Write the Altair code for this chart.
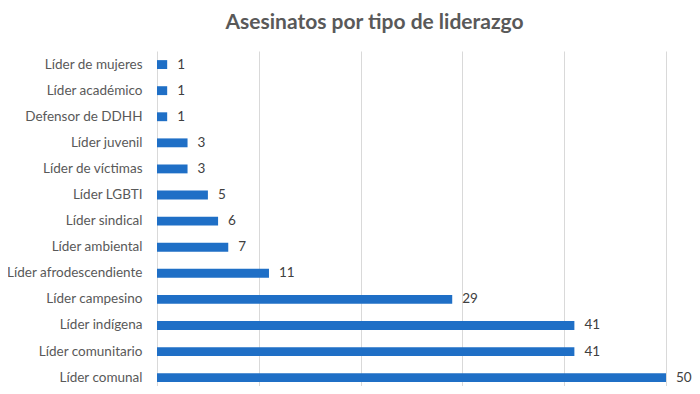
import altair as alt
import pandas as pd

categories = ["Líder de mujeres", "Líder académico", "Defensor de DDHH", "Líder juvenil",
              "Líder de víctimas", "Líder LGBTI", "Líder sindical", "Líder ambiental",
              "Líder afrodescendiente", "Líder campesino", "Líder indígena",
              "Líder comunitario", "Líder comunal"]
values = [1, 1, 1, 3, 3, 5, 6, 7, 11, 29, 41, 41, 50]

df = pd.DataFrame({"cat": categories, "val": values})

FONT = "Lato"

y = alt.Y("cat:N", sort=categories, title=None,
          scale=alt.Scale(paddingInner=0.66, paddingOuter=0.25, align=0.7),
          axis=alt.Axis(labelFontSize=13.5, labelColor="#595959", labelFont=FONT,
                        ticks=False, domain=False, labelPadding=15, labelLimit=300))
x = alt.X("val:Q", title=None,
          scale=alt.Scale(domain=[0, 50], nice=False),
          axis=alt.Axis(values=[0, 10, 20, 30, 40, 50], labels=False, ticks=False,
                        domain=False, grid=True, gridColor="#d9d9d9"))

bars = alt.Chart(df).mark_bar(color="#1F6FC6").encode(x=x, y=y)
text = alt.Chart(df).mark_text(align="left", baseline="middle", dx=10, fontSize=13.5,
                               font=FONT, color="#404040").encode(
    x="val:Q", y=alt.Y("cat:N", sort=categories), text="val:Q")

chart = (bars + text).properties(
    width=509, height=335,
    autosize=alt.AutoSizeParams(type="none"),
    padding={"left": 149, "top": 43, "right": 26, "bottom": 0},
    title=alt.TitleParams("Asesinatos por tipo de liderazgo", fontSize=21, font=FONT,
                          fontWeight="bold", color="#595959", anchor="middle",
                          dx=-37, offset=18),
).configure_view(stroke=None)

chart.save("out.html", embed_options={"renderer": "svg", "actions": False})
